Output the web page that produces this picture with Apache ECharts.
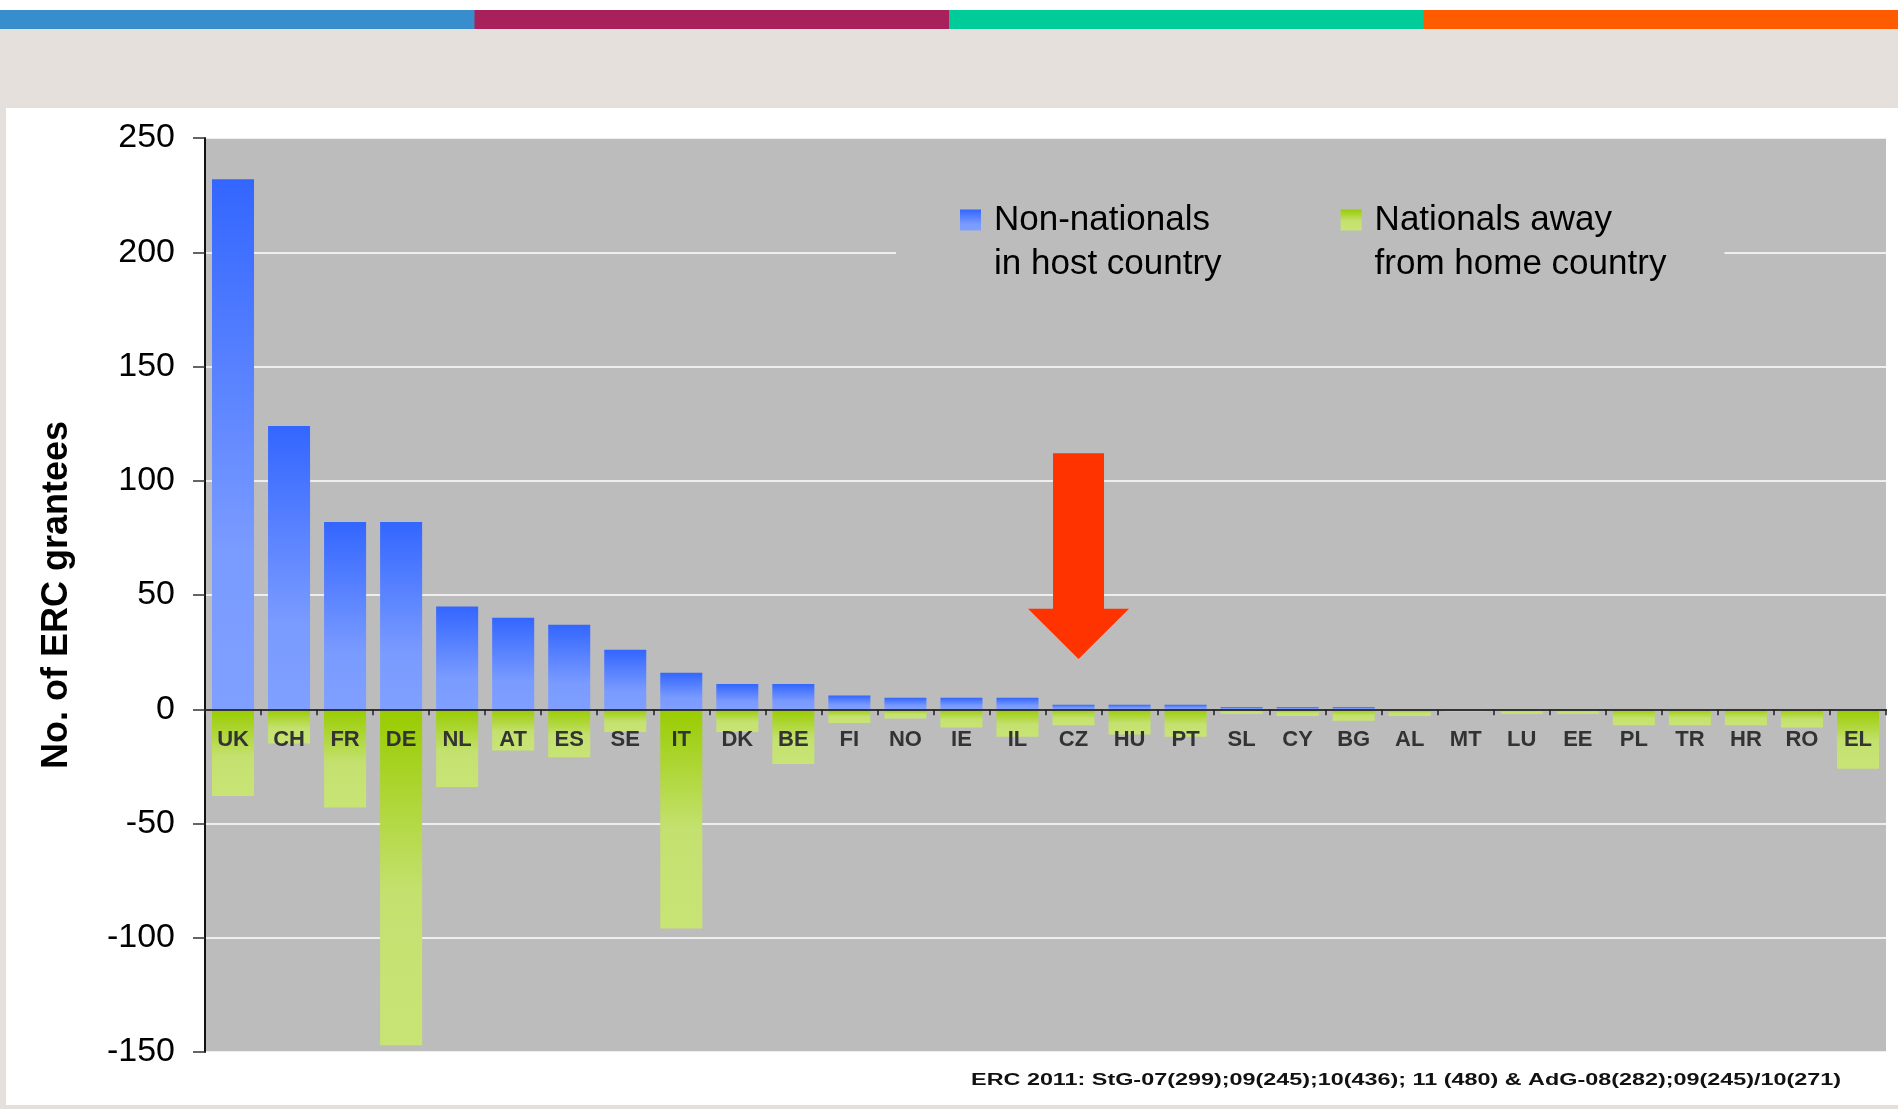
<!DOCTYPE html>
<html><head><meta charset="utf-8">
<script src="https://cdn.jsdelivr.net/npm/echarts@6/dist/echarts.min.js"></script>
<style>html,body{margin:0;padding:0;background:#fff}#c{width:1898px;height:1109px}</style>
</head><body><div id="c"></div><script>
const categories = ['UK','CH','FR','DE','NL','AT','ES','SE','IT','DK','BE','FI','NO','IE','IL','CZ','HU','PT','SL','CY','BG','AL','MT','LU','EE','PL','TR','HR','RO','EL'];
const nonNationals = [232,124,82,82,45,40,37,26,16,11,11,6,5,5,5,2,2,2,1,1,1,0,0,0,0,0,0,0,0,0];
const nationalsAway = [-38,-15,-43,-147,-34,-18,-21,-10,-96,-10,-24,-6,-4,-8,-12,-7,-11,-12,-2,-3,-5,-3,-1,-2,-2,-7,-7,-7,-8,-26];
const yMin = -150, yMax = 250, yStep = 50;
const seriesNames = ['Non-nationals\nin host country', 'Nationals away\nfrom home country'];
const yAxisTitle = 'No. of ERC grantees';
const footnote = 'ERC 2011: StG-07(299);09(245);10(436); 11 (480) & AdG-08(282);09(245)/10(271)';
const arrowCategory = 'CZ';
const arrowValues = {top: 112, base: 44, tip: 22};

const FONT = '"Liberation Sans", Arial, Helvetica, sans-serif';
const chart = echarts.init(document.getElementById('c'), null, {renderer: 'canvas'});

const blueGrad = new echarts.graphic.LinearGradient(0, 0, 0, 1, [
  {offset: 0, color: '#3366FF'}, {offset: 0.7, color: '#7A9BFF'}, {offset: 1, color: '#7FA0FF'}]);
const greenGrad = new echarts.graphic.LinearGradient(0, 0, 0, 1, [
  {offset: 0, color: '#99CC00'}, {offset: 0.55, color: '#C4E170'}, {offset: 1, color: '#C8E475'}]);

const GRID = {left: 205, right: 12, top: 138, bottom: 57};

const option = {
  backgroundColor: '#ffffff',
  animation: false,
  textStyle: {fontFamily: FONT},
  grid: Object.assign({show: true, backgroundColor: '#BCBCBC', borderWidth: 0}, GRID),
  legend: {
    left: 896, top: 148, orient: 'horizontal', icon: 'rect',
    itemWidth: 21, itemHeight: 21, itemGap: 119,
    padding: [6, 58, 6, 64], backgroundColor: '#BCBCBC',
    formatter: function (name) { return '\n' + name; },
    textStyle: {fontFamily: FONT, fontSize: 35, color: '#000', lineHeight: 44, padding: [0, 0, 0, 8]},
    data: seriesNames
  },
  xAxis: {
    type: 'category', data: categories, z: 5, position: 'bottom',
    axisLine: {onZero: false, lineStyle: {color: '#333', width: 2}},
    axisTick: {show: true, length: 6, lineStyle: {color: '#222', width: 1.5}},
    axisLabel: {interval: 0, margin: 20, color: '#333', fontSize: 22, fontWeight: 'bold', fontFamily: FONT},
    splitLine: {show: false}
  },
  yAxis: {
    type: 'value', min: yMin, max: yMax, interval: yStep,
    name: yAxisTitle, nameLocation: 'middle', nameGap: 130, nameRotate: 90,
    nameTextStyle: {fontSize: 36, fontWeight: 'bold', color: '#000', fontFamily: FONT},
    axisLine: {show: true, lineStyle: {color: '#111', width: 2}},
    axisTick: {show: true, length: 12, lineStyle: {color: '#333', width: 1.5}},
    axisLabel: {margin: 30, fontSize: 34, color: '#000', fontFamily: FONT},
    splitLine: {show: true, lineStyle: {color: '#ffffff', width: 1.5}}
  },
  series: [
    {name: seriesNames[0], type: 'bar', data: nonNationals, barWidth: '75%', barGap: '-100%', itemStyle: {color: blueGrad}},
    {name: seriesNames[1], type: 'bar', data: nationalsAway, barWidth: '75%', barGap: '-100%', itemStyle: {color: greenGrad}}
  ]
};
chart.setOption(option);

// place the category axis on the zero line (labels included)
const zeroY = chart.convertToPixel({yAxisIndex: 0}, 0);
const gridBottomY = 1109 - GRID.bottom;
chart.setOption({xAxis: {offset: -(gridBottomY - zeroY)}});

const ci = categories.indexOf(arrowCategory);
const pTop = chart.convertToPixel({gridIndex: 0}, [ci, arrowValues.top]);
const pBase = chart.convertToPixel({gridIndex: 0}, [ci, arrowValues.base]);
const pTip = chart.convertToPixel({gridIndex: 0}, [ci, arrowValues.tip]);
const cx = pTop[0] + 5;
const sw = 25.5, hw = 50.5;

chart.setOption({
  graphic: [
    {type: 'rect', z: -10, shape: {x: 0, y: 10, width: 475, height: 19}, style: {fill: '#388ECC'}},
    {type: 'rect', z: -10, shape: {x: 474.5, y: 10, width: 475, height: 19}, style: {fill: '#A8215A'}},
    {type: 'rect', z: -10, shape: {x: 949, y: 10, width: 475, height: 19}, style: {fill: '#00CC99'}},
    {type: 'rect', z: -10, shape: {x: 1423.5, y: 10, width: 475, height: 19}, style: {fill: '#FF5C00'}},
    {type: 'rect', z: -10, shape: {x: 0, y: 29, width: 1898, height: 79}, style: {fill: '#E5E0DC'}},
    {type: 'rect', z: -10, shape: {x: 0, y: 108, width: 6, height: 1001}, style: {fill: '#E5E0DC'}},
    {type: 'rect', z: -10, shape: {x: 0, y: 1105, width: 1898, height: 4}, style: {fill: '#E5E0DC'}},
    {type: 'polygon', z: 10, shape: {points: [
      [cx - sw, pTop[1]], [cx + sw, pTop[1]], [cx + sw, pBase[1]], [cx + hw, pBase[1]],
      [cx, pTip[1]], [cx - hw, pBase[1]], [cx - sw, pBase[1]]]}, style: {fill: '#FF3300'}},
    {type: 'text', z: 10, x: 1841, y: 1081, scaleX: 1.46, scaleY: 1,
      style: {text: footnote, fill: '#111', font: 'bold 16px ' + FONT, textAlign: 'right', textVerticalAlign: 'middle'}}
  ]
});
</script></body></html>
